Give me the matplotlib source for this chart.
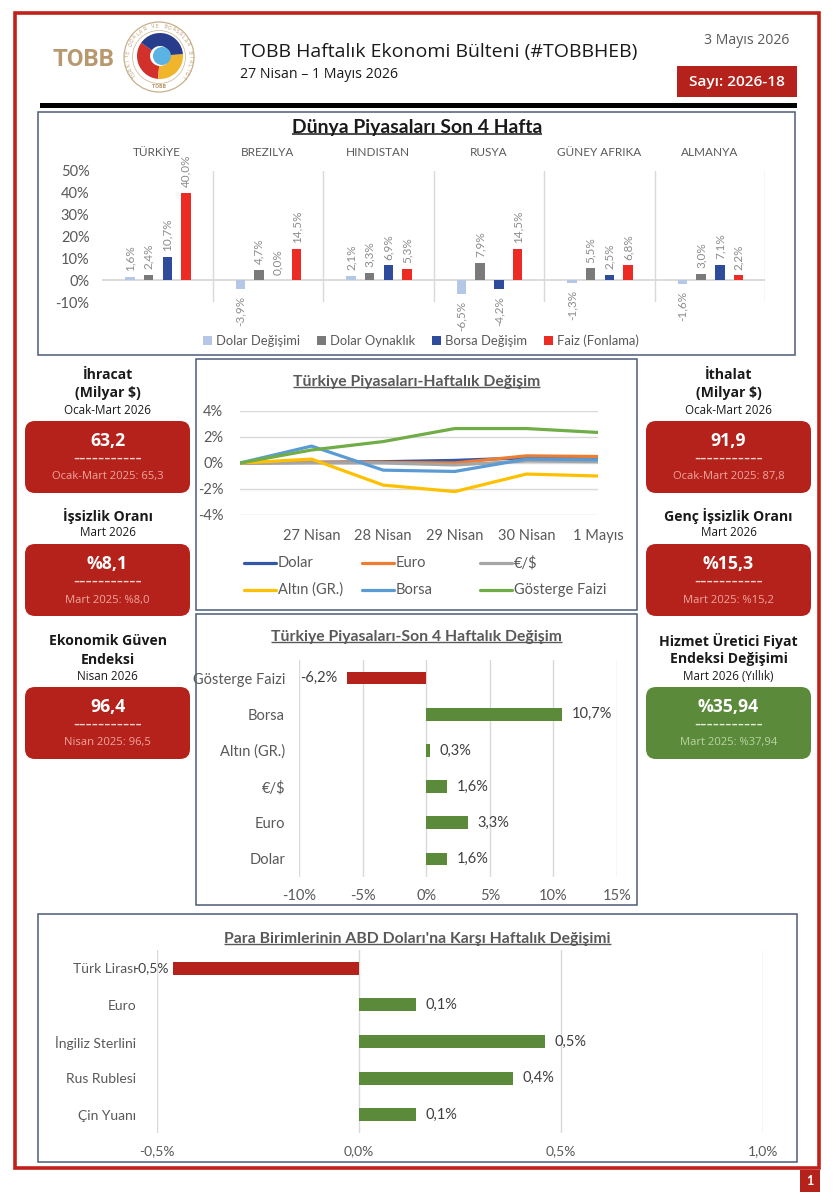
import matplotlib
matplotlib.use('Agg')
import matplotlib.pyplot as plt
import matplotlib.transforms as mtransforms
from matplotlib.patches import Rectangle, FancyBboxPatch, Wedge, Circle, Patch
import numpy as np

# ---------------- DATA ----------------
world_countries = ['TÜRKİYE', 'BREZILYA', 'HINDISTAN', 'RUSYA', 'GÜNEY AFRIKA', 'ALMANYA']
world_series_names = ['Dolar Değişimi', 'Dolar Oynaklık', 'Borsa Değişim', 'Faiz (Fonlama)']
dolar_degisimi = [1.6, -3.9, 2.1, -6.5, -1.3, -1.6]
dolar_oynaklik = [2.4, 4.7, 3.3, 7.9, 5.5, 3.0]
borsa_degisim = [10.7, 0.0, 6.9, -4.2, 2.5, 7.1]
faiz_fonlama = [40.0, 14.5, 5.3, 14.5, 6.8, 2.2]
world_yticks = [-10, 0, 10, 20, 30, 40, 50]

week_days = ['', '27 Nisan', '28 Nisan', '29 Nisan', '30 Nisan', '1 Mayıs']
wk_dolar = [0.0, 0.05, 0.1, 0.2, 0.4, 0.4]
wk_euro = [0.0, 0.05, 0.05, 0.0, 0.55, 0.5]
wk_eurusd = [0.0, 0.0, 0.0, -0.15, 0.15, 0.1]
wk_altin = [0.0, 0.3, -1.7, -2.2, -0.85, -1.0]
wk_borsa = [0.0, 1.3, -0.55, -0.65, 0.3, 0.25]
wk_gosterge = [0.0, 1.0, 1.65, 2.65, 2.65, 2.35]
wk_names = ['Dolar', 'Euro', '€/$', 'Altın (GR.)', 'Borsa', 'Gösterge Faizi']
wk_yticks = [-4, -2, 0, 2, 4]

tr4_labels = ['Gösterge Faizi', 'Borsa', 'Altın (GR.)', '€/$', 'Euro', 'Dolar']
tr4_values = [-6.2, 10.7, 0.3, 1.6, 3.3, 1.6]
tr4_xticks = [-10, -5, 0, 5, 10, 15]

fx_labels = ['Türk Lirası', 'Euro', 'İngiliz Sterlini', 'Rus Rublesi', 'Çin Yuanı']
fx_values = [-0.46, 0.14, 0.46, 0.38, 0.14]
fx_xticks = [-0.5, 0.0, 0.5, 1.0]

left_titles = [['İhracat', '(Milyar $)'], ['İşsizlik Oranı'], ['Ekonomik Güven', 'Endeksi']]
left_periods = ['Ocak-Mart 2026', 'Mart 2026', 'Nisan 2026']
left_values = ['63,2', '%8,1', '96,4']
left_prev = ['Ocak-Mart 2025: 65,3', 'Mart 2025: %8,0', 'Nisan 2025: 96,5']
right_titles = [['İthalat', '(Milyar $)'], ['Genç İşsizlik Oranı'], ['Hizmet Üretici Fiyat', 'Endeksi Değişimi']]
right_periods = ['Ocak-Mart 2026', 'Mart 2026', 'Mart 2026 (Yıllık)']
right_values = ['91,9', '%15,3', '%35,94']
right_prev = ['Ocak-Mart 2025: 87,8', 'Mart 2025: %15,2', 'Mart 2025: %37,94']
right_box_kind = ['red', 'red', 'green']

# ---------------- STYLE ----------------
W, H = 838, 1200
RED = '#b5221b'
GREEN = '#5b8a3b'
FRAME = '#4d5b78'
GRID = '#d9d9d9'
TXT = '#595959'
LAB = '#404040'
F_MAIN = ['Lato', 'DejaVu Sans']
F_HEAD = ['Open Sans', 'DejaVu Sans']
plt.rcParams['font.family'] = F_MAIN

fig = plt.figure(figsize=(W / 100, H / 100), dpi=100)
fig.patch.set_facecolor('white')
bg = fig.add_axes([0, 0, 1, 1], zorder=0)
bg.set_xlim(0, W)
bg.set_ylim(H, 0)
bg.axis('off')
renderer = fig.canvas.get_renderer()


def pax(x0, y0, x1, y1):
    a = fig.add_axes([x0 / W, 1 - y1 / H, (x1 - x0) / W, (y1 - y0) / H], zorder=2)
    a.patch.set_alpha(0)
    return a


def text_w(s, size, **kw):
    t = fig.text(0, 0, s, fontsize=size, **kw)
    w = t.get_window_extent(renderer=renderer).width
    t.remove()
    return w


def fit(s, target, **kw):
    return 10 * target / text_w(s, 10, **kw)


def put(x, y, s, size, **kw):
    kw.setdefault('ha', 'center')
    kw.setdefault('va', 'center')
    return bg.text(x, y, s, fontsize=size, **kw)


def underline(t, color, lw=1.0):
    bb = t.get_window_extent(renderer=renderer)
    fpx = t.get_fontsize() * 100 / 72
    y = H - bb.y0 - 0.12 * fpx
    bg.plot([bb.x0, bb.x1], [y, y], color=color, lw=lw, solid_capstyle='butt')


def pct(v, nd=1):
    return (f'{v:.{nd}f}%').replace('.', ',')


# ---------------- PAGE FRAME & HEADER ----------------
bg.add_patch(Rectangle((15, 13), 804, 1155, fill=False, ec='#c0221b', lw=2.6))
bg.add_patch(Rectangle((800, 1170), 20, 22, fc=RED, ec='none'))
put(810, 1181, '1', 9, color='white', weight='bold')
bg.add_patch(Rectangle((40, 103), 757, 5, fc='black', ec='none'))

put(52, 60, 'TOBB', fit('TOBB', 62, family=['Roboto', 'DejaVu Sans'], weight='bold'),
    ha='left', color='#b8996f', weight='bold', family=['Roboto', 'DejaVu Sans'])
# emblem
cx, cy = 159, 57
bg.add_patch(Circle((cx, cy), 35, fc='white', ec='#c8b08c', lw=0.9))
bg.add_patch(Circle((cx, cy), 26.5, fc='white', ec='#d2bf9f', lw=0.6))
bg.add_patch(Wedge((cx + 1, cy - 1), 23, 95, 215, width=13, fc='#d1302b', ec='none'))
bg.add_patch(Wedge((cx + 1, cy - 1), 23, -5, 95, width=13, fc='#f0b52a', ec='none'))
bg.add_patch(Wedge((cx + 1, cy - 1), 23, 215, 355, width=13, fc='#283c8c', ec='none'))
bg.add_patch(Circle((cx + 3, cy - 1), 9, fc='#5bb3e3', ec='none'))
ring = 'TÜRKİYE ODALAR VE BORSALAR BİRLİĞİ'
angs = np.linspace(218, -38, len(ring))
for ch, a in zip(ring, angs):
    r = 31
    put(cx + r * np.cos(np.radians(a)), cy - r * np.sin(np.radians(a)), ch, 3.3,
        rotation=a - 90, color='#b89a70', family=['DejaVu Sans'])
put(cx, cy + 30, 'TOBB', 3.3, color='#b89a70', family=['DejaVu Sans'], weight='bold')

put(240, 52, 'TOBB Haftalık Ekonomi Bülteni (#TOBBHEB)',
    fit('TOBB Haftalık Ekonomi Bülteni (#TOBBHEB)', 397, family=F_HEAD),
    ha='left', color='#1a1a1a', family=F_HEAD)
put(240, 75, '27 Nisan – 1 Mayıs 2026', fit('27 Nisan – 1 Mayıs 2026', 157, family=F_HEAD),
    ha='left', color='#1a1a1a', family=F_HEAD)
put(789, 40, '3 Mayıs 2026', fit('3 Mayıs 2026', 85, family=F_HEAD), ha='right',
    color=TXT, family=F_HEAD)
bg.add_patch(Rectangle((677, 66), 120, 31, fc=RED, ec='none'))
put(737, 82, 'Sayı: 2026-18', fit('Sayı: 2026-18', 96, family=F_HEAD, weight='semibold'),
    color='white', family=F_HEAD, weight='semibold')

# section frames
for (x0, y0, x1, y1) in [(38, 112, 795, 355), (196, 359, 637, 610),
                         (196, 614, 637, 905), (38, 914, 797, 1162)]:
    bg.add_patch(Rectangle((x0, y0), x1 - x0, y1 - y0, fill=False, ec=FRAME, lw=1.1))

# ---------------- TOP: WORLD MARKETS ----------------
t = put(417, 128, 'Dünya Piyasaları Son 4 Hafta',
        fit('Dünya Piyasaları Son 4 Hafta', 250, family=F_MAIN, weight='bold'),
        weight='bold', color='#1a1a1a')
underline(t, '#1a1a1a', 1.1)

ax1 = pax(102, 171, 765, 302)
ax1.set_xlim(0, 6)
ax1.set_ylim(-10, 50)
w_series = [dolar_degisimi, dolar_oynaklik, borsa_degisim, faiz_fonlama]
w_colors = ['#b4c7e7', '#7a7a7a', '#2f4b9b', '#ec2b24']
idx = np.arange(len(world_countries))
for j, (vals, c) in enumerate(zip(w_series, w_colors)):
    xs = idx + 0.507 + (j - 1.5) * 0.169
    ax1.bar(xs, vals, width=0.085, color=c, zorder=3)
    for x, v in zip(xs, vals):
        if v >= 0:
            ax1.annotate(pct(v), (x, v), xytext=(0, 4), textcoords='offset points',
                         rotation=90, ha='center', va='bottom', fontsize=8.5, color='#8c8c8c')
        else:
            ax1.annotate(pct(v), (x, v), xytext=(0, -5), textcoords='offset points',
                         rotation=90, ha='center', va='top', fontsize=8.5, color='#8c8c8c')
for k in range(1, 7):
    ax1.axvline(k, color=GRID, lw=1, zorder=1)
ax1.axhline(0, color=GRID, lw=1.3, zorder=2)
ax1.set_yticks(world_yticks)
ax1.set_yticklabels([f'{v}%' for v in world_yticks])
ax1.tick_params(axis='y', length=0, pad=9, labelsize=10.5, labelcolor=TXT)
ax1.set_xticks([])
for s in ax1.spines.values():
    s.set_visible(False)
trb = mtransforms.blended_transform_factory(ax1.transData, ax1.transAxes)
for i, name in enumerate(world_countries):
    ax1.text(i + 0.5, (302 - 152) / 131, name, transform=trb, ha='center', va='center',
             fontsize=8.5, color=TXT)
handles = [Patch(fc=c, ec='none', label=n) for c, n in zip(w_colors, world_series_names)]
fig.legend(handles=handles, loc='center', bbox_to_anchor=(421 / W, 1 - 341 / H), ncol=4,
           frameon=False, fontsize=9.4, handlelength=0.7, handleheight=0.7,
           handletextpad=0.3, columnspacing=1.3, labelcolor=TXT)

# ---------------- MIDDLE: WEEKLY LINES ----------------
t = put(416.5, 382, 'Türkiye Piyasaları-Haftalık Değişim',
        fit('Türkiye Piyasaları-Haftalık Değişim', 247, weight='bold'),
        weight='bold', color=TXT)
underline(t, TXT, 1.0)
ax2 = pax(240, 411, 598, 515)
wk_series = [wk_dolar, wk_euro, wk_eurusd, wk_altin, wk_borsa, wk_gosterge]
wk_colors = ['#3358a8', '#ed7d31', '#a5a5a5', '#ffc000', '#5b9bd5', '#70ad47']
xw = np.arange(len(week_days))
for vals, c in zip(wk_series, wk_colors):
    ax2.plot(xw, vals, color=c, lw=2.3, solid_capstyle='round', zorder=3)
ax2.set_xlim(0, 5)
ax2.set_ylim(-4, 4)
ax2.set_yticks(wk_yticks)
ax2.set_yticklabels([f'{v}%' for v in wk_yticks])
ax2.set_xticks(xw)
ax2.set_xticklabels(week_days)
ax2.grid(axis='y', color=GRID, lw=1)
ax2.tick_params(length=0, labelsize=10.5, labelcolor=TXT)
ax2.tick_params(axis='y', pad=12)
ax2.tick_params(axis='x', pad=10)
for s in ax2.spines.values():
    s.set_visible(False)
# legend (two rows x three equal columns)
leg_cols = [244, 362, 480]
leg_rows = [563, 590]
for k, (n, c) in enumerate(zip(wk_names, wk_colors)):
    lx = leg_cols[k % 3]
    ly = leg_rows[k // 3]
    bg.plot([lx, lx + 32], [ly, ly], color=c, lw=2.3, solid_capstyle='round')
    put(lx + 34, ly, n, 10.5, ha='left', color=TXT)

# ---------------- MIDDLE: 4-WEEK BARS ----------------
t = put(416.5, 637, 'Türkiye Piyasaları-Son 4 Haftalık Değişim',
        fit('Türkiye Piyasaları-Son 4 Haftalık Değişim', 289, weight='bold'),
        weight='bold', color=TXT)
underline(t, TXT, 1.0)
ax3 = pax(299, 660, 617, 877)
y3 = np.arange(len(tr4_labels))
c3 = [RED if v < 0 else GREEN for v in tr4_values]
ax3.barh(y3, tr4_values, height=0.35, color=c3, zorder=3)
for y, v in zip(y3, tr4_values):
    if v < 0:
        ax3.annotate(pct(v), (v, y), xytext=(-7, 0), textcoords='offset points',
                     ha='right', va='center', fontsize=10.5, color=LAB)
    else:
        ax3.annotate(pct(v), (v, y), xytext=(7, 0), textcoords='offset points',
                     ha='left', va='center', fontsize=10.5, color=LAB)
ax3.set_xlim(-10, 15)
ax3.set_ylim(len(tr4_labels) - 0.5, -0.5)
ax3.set_xticks(tr4_xticks)
ax3.set_xticklabels([f'{v}%' for v in tr4_xticks])
ax3.set_yticks(y3)
ax3.set_yticklabels(tr4_labels)
ax3.grid(axis='x', color=GRID, lw=1)
ax3.tick_params(length=0, labelsize=10.5, labelcolor=TXT)
ax3.tick_params(axis='y', pad=10)
ax3.tick_params(axis='x', pad=9)
for s in ax3.spines.values():
    s.set_visible(False)

# ---------------- BOTTOM: CURRENCIES vs USD ----------------
t = put(417.5, 939, "Para Birimlerinin ABD Doları'na Karşı Haftalık Değişimi",
        fit("Para Birimlerinin ABD Doları'na Karşı Haftalık Değişimi", 386, weight='bold'),
        weight='bold', color=TXT)
underline(t, TXT, 1.0)
ax4 = pax(157, 950, 763, 1133)
y4 = np.arange(len(fx_labels))
c4 = [RED if v < 0 else GREEN for v in fx_values]
ax4.barh(y4, fx_values, height=0.36, color=c4, zorder=3)
for y, v in zip(y4, fx_values):
    if v < 0:
        ax4.annotate(pct(v), (v, y), xytext=(-3.5, 0), textcoords='offset points',
                     ha='right', va='center', fontsize=10, color=LAB)
    else:
        ax4.annotate(pct(v), (v, y), xytext=(7, 0), textcoords='offset points',
                     ha='left', va='center', fontsize=10.5, color=LAB)
ax4.set_xlim(-0.5, 1.0)
ax4.set_ylim(len(fx_labels) - 0.5, -0.5)
ax4.set_xticks(fx_xticks)
ax4.set_xticklabels([pct(v) for v in fx_xticks])
ax4.set_yticks(y4)
ax4.set_yticklabels(fx_labels)
ax4.grid(axis='x', color=GRID, lw=1)
ax4.tick_params(length=0, labelsize=10, labelcolor=TXT)
ax4.tick_params(axis='y', pad=15)
ax4.tick_params(axis='x', pad=9)
for s in ax4.spines.values():
    s.set_visible(False)

# ---------------- SIDE INDICATOR CARDS ----------------
fs_head = fit('Ekonomik Güven', 118, family=F_HEAD, weight='bold')
fs_per = fit('Ocak-Mart 2026', 86, family=F_HEAD)
fs_val = fit('%35,94', 61, family=F_HEAD, weight='bold')
fs_prev = fit('Ocak-Mart 2025: 65,3', 111, family=F_HEAD)
fs_dash = fit('-----------', 68, family=F_HEAD)
box_tops = [421, 544, 687]


def card(xc, x0, x1, top, titles, period, value, prev, kind):
    per_y = top - 11
    put(xc, per_y, period, fs_per, color='#1a1a1a', family=F_HEAD)
    ly = per_y - 16.5
    for line in reversed(titles):
        put(xc, ly, line, fs_head, color='#1a1a1a', family=F_HEAD, weight='bold')
        ly -= 18.5
    fc = RED if kind == 'red' else GREEN
    bg.add_patch(FancyBboxPatch((x0, top), x1 - x0, 72, boxstyle='round,pad=0,rounding_size=10',
                                fc=fc, ec='none'))
    light = '#f0a59c' if kind == 'red' else '#b9d4a3'
    put(xc, top + 20, value, fs_val, color='white', family=F_HEAD, weight='bold')
    put(xc, top + 38, '-----------', fs_dash, color='#f6d6d2' if kind == 'red' else '#e2efd8',
        family=F_HEAD)
    put(xc, top + 56, prev, fs_prev, color=light, family=F_HEAD)


for k in range(3):
    card(107.5, 25, 190, box_tops[k], left_titles[k], left_periods[k], left_values[k],
         left_prev[k], 'red')
    card(728.5, 646, 811, box_tops[k], right_titles[k], right_periods[k], right_values[k],
         right_prev[k], right_box_kind[k])

fig.savefig('out.png', dpi=100, facecolor='white')
